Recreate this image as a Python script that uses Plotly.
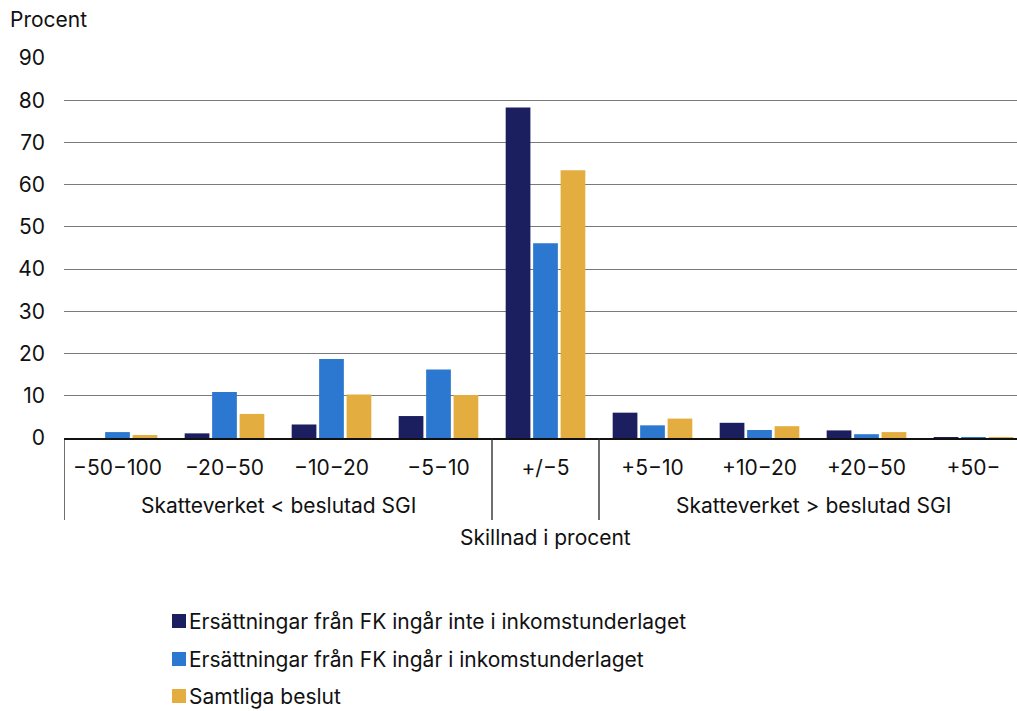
import plotly.graph_objects as go

categories = ["−50−100", "−20−50", "−10−20", "−5−10", "+/−5",
              "+5−10", "+10−20", "+20−50", "+50−"]

series_names = [
    "Ersättningar från FK ingår inte i inkomstunderlaget",
    "Ersättningar från FK ingår i inkomstunderlaget",
    "Samtliga beslut",
]
fk_excluded = [0.0, 1.1, 3.2, 5.2, 78.3, 6.0, 3.6, 1.8, 0.2]
fk_included = [1.4, 10.9, 18.7, 16.2, 46.1, 3.0, 1.9, 0.9, 0.2]
all_decisions = [0.7, 5.7, 10.3, 10.2, 63.4, 4.6, 2.8, 1.4, 0.1]

colors = ["#1b1f5f", "#2c77cf", "#e3ae3f"]

group_labels = ["Skatteverket < beslutad SGI", "Skatteverket > beslutad SGI"]
group_centers = [1.5, 6.5]
dividers = [-0.5, 3.5, 4.5]

FONT = "Inter"
FS = 21
TXT = "#111"

W, H = 1017, 711
L, R, T, B = 64, 0, 58, 273
plot_w = W - L - R
plot_h = H - T - B
slot = 107  # pixel width of one category


def px_x(px):
    return (px - L) / plot_w


def px_y(py):
    return (H - B - py) / plot_h


fig = go.Figure()
for i, (name, vals) in enumerate(zip(series_names, [fk_excluded, fk_included, all_decisions])):
    fig.add_trace(go.Bar(
        x=list(range(len(categories))), y=vals, name=name,
        marker=dict(color=colors[i], line=dict(width=0)),
        showlegend=False,
    ))

shapes = []
for d in dividers:
    shapes.append(dict(type="line", xref="x", yref="paper", x0=d, x1=d,
                       y0=0, y1=px_y(520),
                       line=dict(color="#222", width=1.3)))

annotations = [
    dict(text="Procent", xref="paper", yref="paper", x=px_x(8),
         y=px_y(20), xanchor="left", yanchor="middle",
         showarrow=False, font=dict(family=FONT, size=FS, color=TXT)),
    dict(text="Skillnad i procent", xref="x", yref="paper", x=4,
         y=px_y(537), xanchor="center", yanchor="middle",
         showarrow=False, font=dict(family=FONT, size=FS, color=TXT)),
]
for lab, cx in zip(group_labels, group_centers):
    annotations.append(dict(text=lab, xref="x", yref="paper", x=cx,
                            y=px_y(505), xanchor="center", yanchor="middle",
                            showarrow=False, font=dict(family=FONT, size=FS, color=TXT)))

# legend: colour key squares with series names
legend_rows = [621, 659, 696]
for name, col, cy in zip(series_names, colors, legend_rows):
    shapes.append(dict(type="rect", xref="paper", yref="paper",
                       x0=px_x(172), x1=px_x(186), y0=px_y(cy + 7), y1=px_y(cy - 7),
                       fillcolor=col, line=dict(width=0)))
    annotations.append(dict(text=name, xref="paper", yref="paper",
                            x=px_x(187), y=px_y(cy), xanchor="left", yanchor="middle",
                            showarrow=False, font=dict(family=FONT, size=FS, color=TXT)))

fig.update_layout(
    width=W, height=H,
    margin=dict(l=L, r=R, t=T, b=B, pad=0, autoexpand=False),
    paper_bgcolor="white", plot_bgcolor="white",
    barmode="group", bargap=0.23, bargroupgap=0.1,
    font=dict(family=FONT, size=FS, color=TXT),
    showlegend=False,
    xaxis=dict(
        tickmode="array", tickvals=list(range(len(categories))), ticktext=categories,
        range=[-0.5, -0.5 + plot_w / slot], showgrid=False, zeroline=False,
        showline=True, linecolor="#111", linewidth=1.5,
        ticks="outside", ticklen=10, tickcolor="rgba(0,0,0,0)",
        tickfont=dict(family=FONT, size=FS, color=TXT),
    ),
    yaxis=dict(
        range=[0, 90], tickvals=list(range(0, 91, 10)),
        showgrid=True, gridcolor="#7a7a7a", gridwidth=1.2,
        zeroline=False, showline=False, ticks="", ticklabelstandoff=18,
        tickfont=dict(family=FONT, size=FS, color=TXT),
    ),
    shapes=shapes, annotations=annotations,
)

fig.write_html("out.html")
